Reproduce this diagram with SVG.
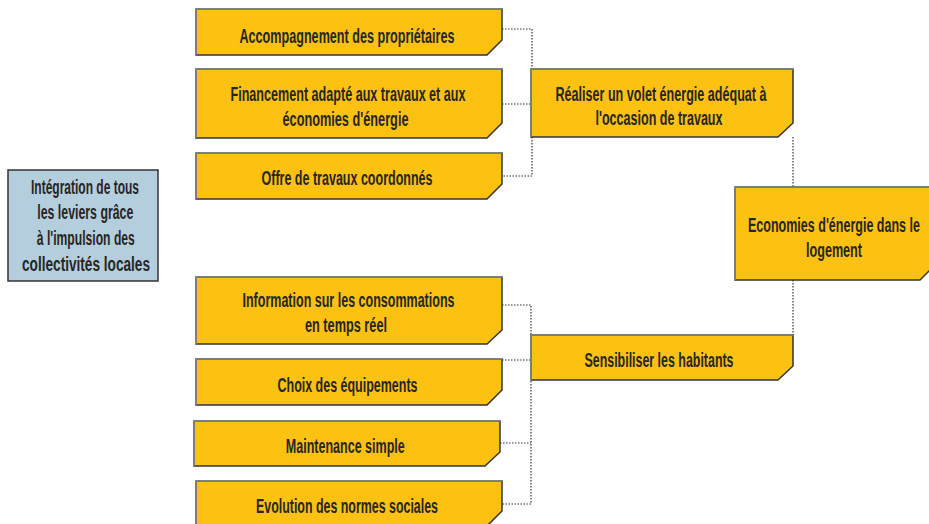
<svg xmlns="http://www.w3.org/2000/svg" width="929" height="524" viewBox="0 0 929 524">
<style>
.box{fill:#FDC112;stroke:#333;stroke-width:1.5}
.hl{fill:none;stroke:#888;stroke-width:1.5}
.blue{fill:#B5CEDD;stroke:#333;stroke-width:1.5}
.t{font-family:"Liberation Sans Narrow","Liberation Sans",Arial,sans-serif;font-weight:bold;font-size:19.5px;fill:#262626;text-anchor:middle}
.c{fill:none;stroke:#333;stroke-width:1.2;stroke-dasharray:1.5 1.5}
</style>
<rect width="929" height="524" fill="#fff"/>
<g id="connectors">
<polyline class="c" points="502,29 532,29 532,176 502,176"/>
<line class="c" x1="502" y1="104" x2="531" y2="104"/>
<line class="c" x1="793" y1="137" x2="793" y2="187"/>
<line class="c" x1="793" y1="280" x2="793" y2="335"/>
<polyline class="c" points="502,305 531,305 531,504 502,504"/>
<line class="c" x1="502" y1="360" x2="531" y2="360"/>
<line class="c" x1="500" y1="443" x2="531" y2="443"/>
</g>
<g id="n-accompagnement">
<polygon class="box" points="196,9 502,9 502,40 487,55 196,55"/>
<polyline class="hl" points="196,55 196,9 502,9"/>
<text class="t" x="347" y="42.5" textLength="215" lengthAdjust="spacingAndGlyphs">Accompagnement des propriétaires</text>
</g>
<g id="n-financement">
<polygon class="box" points="196,69 502,69 502,123 487,138 196,138"/>
<polyline class="hl" points="196,138 196,69 502,69"/>
<text class="t" x="348" y="101" textLength="235" lengthAdjust="spacingAndGlyphs">Financement adapté aux travaux et aux</text>
<text class="t" x="345.5" y="126" textLength="126" lengthAdjust="spacingAndGlyphs">économies d'énergie</text>
</g>
<g id="n-offre">
<polygon class="box" points="196,153 502,153 502,184 487,199 196,199"/>
<polyline class="hl" points="196,199 196,153 502,153"/>
<text class="t" x="347" y="185" textLength="171" lengthAdjust="spacingAndGlyphs">Offre de travaux coordonnés</text>
</g>
<g id="n-realiser">
<polygon class="box" points="531,69 793,69 793,123 778,137 531,137"/>
<polyline class="hl" points="531,137 531,69 793,69"/>
<text class="t" x="661" y="100.7" textLength="211" lengthAdjust="spacingAndGlyphs">Réaliser un volet énergie adéquat à</text>
<text class="t" x="659" y="125" textLength="127" lengthAdjust="spacingAndGlyphs">l'occasion de travaux</text>
</g>
<g id="n-economies">
<polygon class="box" points="735,187 935,187 935,265 920,280 735,280"/>
<polyline class="hl" points="735,280 735,187 935,187"/>
<text class="t" x="834" y="231.7" textLength="172" lengthAdjust="spacingAndGlyphs">Economies d'énergie dans le</text>
<text class="t" x="834" y="256.7" textLength="56" lengthAdjust="spacingAndGlyphs">logement</text>
</g>
<g id="n-integration">
<rect class="blue" x="8" y="170" width="150" height="111"/>
<text class="t" x="85" y="193.5" textLength="108" lengthAdjust="spacingAndGlyphs">Intégration de tous</text>
<text class="t" x="85.3" y="219" textLength="96" lengthAdjust="spacingAndGlyphs">les leviers grâce</text>
<text class="t" x="85.8" y="245" textLength="98" lengthAdjust="spacingAndGlyphs">à l'impulsion des</text>
<text class="t" x="86" y="270.7" textLength="128" lengthAdjust="spacingAndGlyphs">collectivités locales</text>
</g>
<g id="n-information">
<polygon class="box" points="196,277 502,277 502,330 487,344 196,344"/>
<polyline class="hl" points="196,344 196,277 502,277"/>
<text class="t" x="348.5" y="306.7" textLength="212" lengthAdjust="spacingAndGlyphs">Information sur les consommations</text>
<text class="t" x="346" y="331.7" textLength="82" lengthAdjust="spacingAndGlyphs">en temps réel</text>
</g>
<g id="n-choix">
<polygon class="box" points="196,359 502,359 502,390 487,405 196,405"/>
<polyline class="hl" points="196,405 196,359 502,359"/>
<text class="t" x="347.5" y="391.7" textLength="140" lengthAdjust="spacingAndGlyphs">Choix des équipements</text>
</g>
<g id="n-maintenance">
<polygon class="box" points="194,421 500,421 500,452 485,466 194,466"/>
<polyline class="hl" points="194,466 194,421 500,421"/>
<text class="t" x="345.3" y="453.3" textLength="119" lengthAdjust="spacingAndGlyphs">Maintenance simple</text>
</g>
<g id="n-evolution">
<polygon class="box" points="196,481 502,481 502,511 487,526 196,526"/>
<polyline class="hl" points="196,526 196,481 502,481"/>
<text class="t" x="347" y="513.3" textLength="182" lengthAdjust="spacingAndGlyphs">Evolution des normes sociales</text>
</g>
<g id="n-sensibiliser">
<polygon class="box" points="531,335 793,335 793,366 778,380 531,380"/>
<polyline class="hl" points="531,380 531,335 793,335"/>
<text class="t" x="659" y="366.7" textLength="149" lengthAdjust="spacingAndGlyphs">Sensibiliser les habitants</text>
</g>
</svg>
